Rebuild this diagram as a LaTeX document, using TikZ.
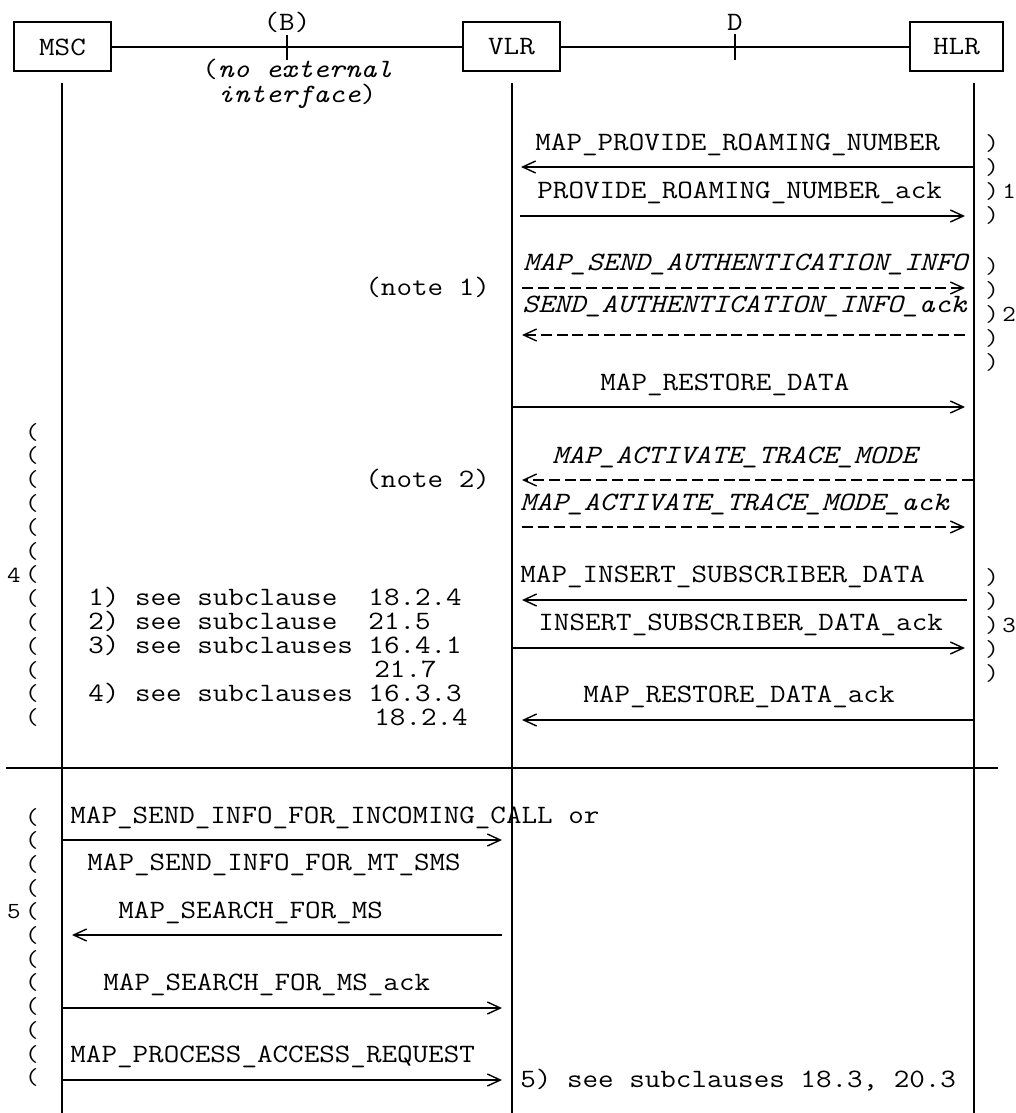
\documentclass[tikz,border=0pt]{standalone}
\usepackage{fontspec}
\setmonofont{Latin Modern Mono}[FakeStretch=1.14]
\usetikzlibrary{arrows.meta}

\begin{document}
\begin{tikzpicture}[
    x=0.5pt, y=-0.5pt,
    every node/.style={font=\ttfamily\fontsize{13.25}{12}\selectfont, inner sep=0pt},
    entity/.style={draw, line width=1pt, minimum height=24.5pt, minimum width=48.5pt},
    life/.style={line width=1pt},
    msg/.style={line width=1pt, -{Straight Barb[length=6.5pt,width=6pt,line width=0.7pt]}},
    optmsg/.style={msg, dash pattern=on 5.5pt off 2.45pt},
    lbl/.style={anchor=base west},
    brk/.style={font=\ttfamily\fontsize{11.5}{12}\selectfont}
]
  \useasboundingbox (0,0) rectangle (1016,1113);

  % Entities and interfaces
  \node (msc) [entity] at (62.5,47) {MSC};
  \node (vlr) [entity] at (511.5,47) {VLR};
  \node (hlr) [entity, minimum width=46.5pt] at (956.5,47) {HLR};
  \draw [life] (msc) -- (vlr);
  \draw [life] (vlr) -- (hlr);

  \coordinate (ifB) at (287,47);
  \coordinate (ifD) at (735,47);
  \draw [life] ([yshift=6pt]ifB) -- ([yshift=-6.5pt]ifB);
  \draw [life] ([yshift=6.5pt]ifD) -- ([yshift=-6.5pt]ifD);
  \node (labB) [anchor=base] at (287,31) {(B)};
  \node (labD) [anchor=base] at (735,31) {D};
  \node (noext) [lbl, font=\ttfamily\fontsize{13.25}{11}\selectfont] at (202,78)
    {\begin{tabular}[t]{@{}l@{}}(\textit{no external}\\ \phantom{(}\textit{interface})\end{tabular}};

  % Lifelines
  \coordinate (mscTop) at (62,83);
  \coordinate (mscBot) at (62,1113);
  \coordinate (vlrTop) at (512,83);
  \coordinate (vlrBot) at (512,1113);
  \coordinate (hlrTop) at (974,83);
  \coordinate (hlrBot) at (974,1113);
  \draw [life] (mscTop) -- (mscBot);
  \draw [life] (vlrTop) -- (vlrBot);
  \draw [life] (hlrTop) -- (hlrBot);

  % Separator
  \coordinate (sepL) at (6,768);
  \coordinate (sepR) at (998,768);
  \draw [life] (sepL) -- (sepR);

  % VLR - HLR messages
  \node (prn) [lbl] at (535,150) {MAP\_PROVIDE\_ROAMING\_NUMBER};
  \coordinate (prnH) at (974,167);
  \coordinate (prnV) at (521,167);
  \draw [msg] (prnH) -- (prnV);

  \node (prnack) [lbl] at (537,198) {PROVIDE\_ROAMING\_NUMBER\_ack};
  \coordinate (prnackV) at (520,216);
  \coordinate (prnackH) at (965,216);
  \draw [msg] (prnackV) -- (prnackH);

  \node (sai) [lbl] at (523,270) {\textit{MAP\_SEND\_AUTHENTICATION\_INFO}};
  \coordinate (saiV) at (522,288);
  \coordinate (saiH) at (965,288);
  \draw [optmsg] (saiV) -- (saiH);

  \node (saiack) [lbl] at (522,312) {\textit{SEND\_AUTHENTICATION\_INFO\_ack}};
  \coordinate (saiackH) at (965,335);
  \coordinate (saiackV) at (522,335);
  \draw [optmsg] (saiackH) -- (saiackV);

  \node (rd) [lbl] at (600,390) {MAP\_RESTORE\_DATA};
  \coordinate (rdV) at (512,407);
  \coordinate (rdH) at (965,407);
  \draw [msg] (rdV) -- (rdH);

  \node (atm) [lbl] at (552,463) {\textit{MAP\_ACTIVATE\_TRACE\_MODE}};
  \coordinate (atmH) at (973,480);
  \coordinate (atmV) at (522,480);
  \draw [optmsg] (atmH) -- (atmV);

  \node (atmack) [lbl] at (520,510) {\textit{MAP\_ACTIVATE\_TRACE\_MODE\_ack}};
  \coordinate (atmackV) at (522,527);
  \coordinate (atmackH) at (965,527);
  \draw [optmsg] (atmackV) -- (atmackH);

  \node (isd) [lbl] at (520,582) {MAP\_INSERT\_SUBSCRIBER\_DATA};
  \coordinate (isdH) at (967,600);
  \coordinate (isdV) at (522,600);
  \draw [msg] (isdH) -- (isdV);

  \node (isdack) [lbl] at (538,630) {INSERT\_SUBSCRIBER\_DATA\_ack};
  \coordinate (isdackV) at (512,648);
  \coordinate (isdackH) at (965,648);
  \draw [msg] (isdackV) -- (isdackH);

  \node (rdack) [lbl] at (583,702) {MAP\_RESTORE\_DATA\_ack};
  \coordinate (rdackH) at (974,720);
  \coordinate (rdackV) at (522,720);
  \draw [msg] (rdackH) -- (rdackV);

  % Notes
  \node (note1) [lbl] at (365,295) {(note 1)};
  \node (note2) [lbl] at (365,487) {(note 2)};
  \node (ref1) [lbl] at (88,605) {1)~see~subclause~~18.2.4};
  \node (ref2) [lbl] at (88,629) {2)~see~subclause~~21.5};
  \node (ref3) [lbl] at (88,653) {3)~see~subclauses~16.4.1};
  \node (ref3b) [lbl] at (374,677) {21.7};
  \node (ref4) [lbl] at (88,701) {4)~see~subclauses~16.3.3};
  \node (ref4b) [lbl] at (374,725) {18.2.4};

  % MSC - VLR messages
  \node (sific) [lbl] at (70,823) {MAP\_SEND\_INFO\_FOR\_INCOMING\_CALL or};
  \coordinate (sificM) at (62,840);
  \coordinate (sificV) at (502,840);
  \draw [msg] (sificM) -- (sificV);
  \node (sifsms) [lbl] at (87,870) {MAP\_SEND\_INFO\_FOR\_MT\_SMS};

  \node (sfm) [lbl] at (118,918) {MAP\_SEARCH\_FOR\_MS};
  \coordinate (sfmV) at (502,935);
  \coordinate (sfmM) at (72,935);
  \draw [msg] (sfmV) -- (sfmM);

  \node (sfmack) [lbl] at (103,990) {MAP\_SEARCH\_FOR\_MS\_ack};
  \coordinate (sfmackM) at (62,1008);
  \coordinate (sfmackV) at (502,1008);
  \draw [msg] (sfmackM) -- (sfmackV);

  \node (par) [lbl] at (70,1062) {MAP\_PROCESS\_ACCESS\_REQUEST};
  \coordinate (parM) at (62,1080);
  \coordinate (parV) at (502,1080);
  \draw [msg] (parM) -- (parV);
  \node (ref5) [lbl] at (520,1087) {5)~see~subclauses~18.3,~20.3};

  % Bracket columns
  \foreach \i in {0,...,3}
    \node (g1-\i) [brk] at (992,143+24*\i) {)};
  \node (g1num) [brk] at (1009,191) {1};
  \foreach \i in {0,...,4}
    \node (g2-\i) [brk] at (992,266+24*\i) {)};
  \node (g2num) [brk] at (1009,314) {2};
  \foreach \i in {0,...,4}
    \node (g3-\i) [brk] at (992,577+24*\i) {)};
  \node (g3num) [brk] at (1009,625) {3};
  \foreach \i in {0,...,12}
    \node (g4-\i) [brk] at (32,432+23.8*\i) {(};
  \node (g4num) [brk] at (14,575) {4};
  \foreach \i in {0,...,11}
    \node (g5-\i) [brk] at (32,817+23.7*\i) {(};
  \node (g5num) [brk] at (14,912) {5};
\end{tikzpicture}
\end{document}
